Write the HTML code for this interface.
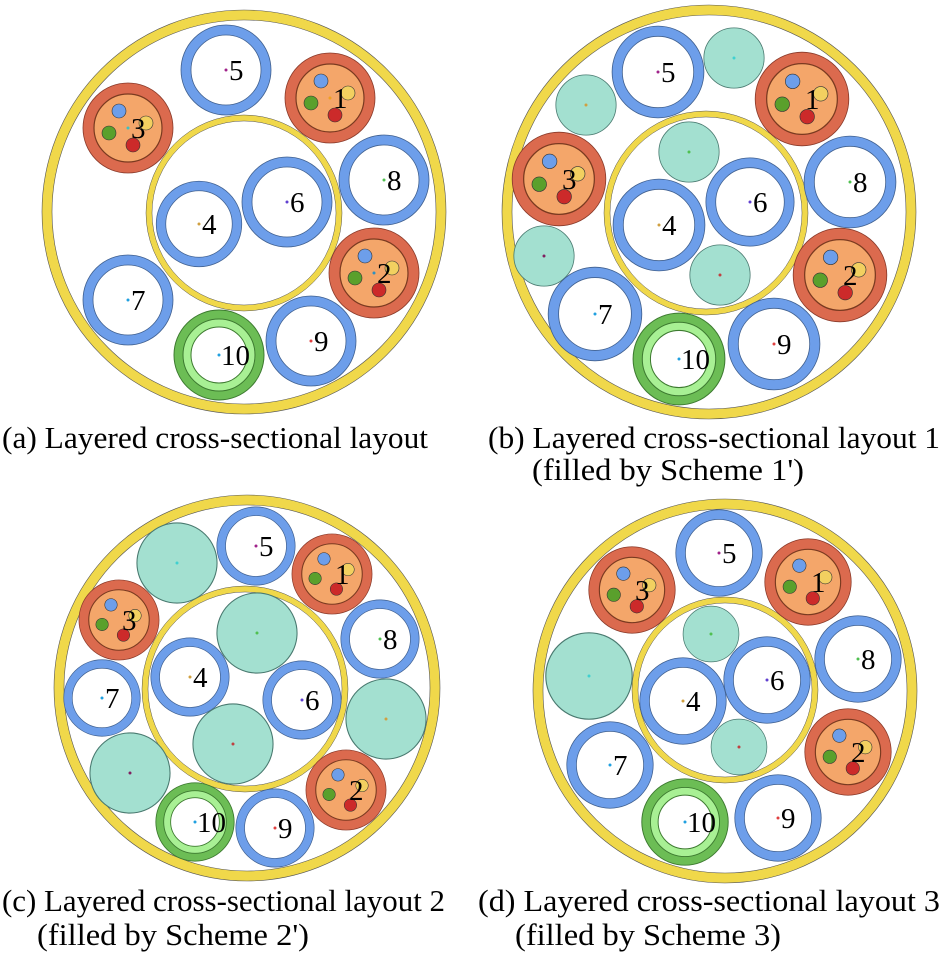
<!DOCTYPE html>
<html><head><meta charset="utf-8"><style>
html,body{margin:0;padding:0;background:#fff;}
svg{display:block;}
text{font-family:"Liberation Serif","Times New Roman",serif;fill:#000;}
</style></head><body>
<svg width="946" height="962" viewBox="0 0 946 962" xmlns="http://www.w3.org/2000/svg">
<defs>
<g id="blue">
<circle r="40" fill="#fff" stroke="#6d9eea" stroke-width="10"/>
<circle r="45" fill="none" stroke="#40608f" stroke-width="0.8"/>
<circle r="35" fill="none" stroke="#40608f" stroke-width="0.8"/>
</g>
<g id="comp">
<circle r="45" fill="#db6a4e" stroke="#8a3a2a" stroke-width="0.8"/>
<circle r="34" fill="#f4a66a" stroke="#7a3a20" stroke-width="1.2"/>
<circle cx="-9" cy="-17" r="7" fill="#6d9eea" stroke="#333" stroke-width="0.6"/>
<circle cx="18" cy="-5" r="7" fill="#f2d060" stroke="#333" stroke-width="0.6"/>
<circle cx="-19" cy="5" r="7" fill="#5aa02c" stroke="#333" stroke-width="0.6"/>
<circle cx="5" cy="17" r="7" fill="#cc2a2a" stroke="#333" stroke-width="0.6"/>
</g>
<g id="ten">
<circle r="45" fill="#6cbd55" stroke="#3d7a30" stroke-width="1"/>
<circle r="36" fill="#a8f094" stroke="#3d7a30" stroke-width="1"/>
<circle r="28" fill="#fff" stroke="#3d7a30" stroke-width="1"/>
</g>
<g id="teal"><circle r="45" fill="#a3e0d0" stroke="#4a7a70" stroke-width="1.2"/></g>
</defs>

<!-- Panel a -->
<circle cx="244" cy="212" r="197" fill="#fff" stroke="#f0d84a" stroke-width="10"/>
<circle cx="244" cy="212" r="202" fill="none" stroke="#555" stroke-width="0.6"/>
<circle cx="244" cy="212" r="192" fill="none" stroke="#555" stroke-width="0.6"/>
<circle cx="244" cy="213" r="95" fill="none" stroke="#f0d84a" stroke-width="6"/>
<circle cx="244" cy="213" r="98" fill="none" stroke="#555" stroke-width="0.5"/>
<circle cx="244" cy="213" r="92" fill="none" stroke="#555" stroke-width="0.5"/>
<use href="#blue" transform="translate(226,70)"/>
<use href="#comp" transform="translate(330,98)"/>
<use href="#comp" transform="translate(128,128)"/>
<use href="#blue" transform="translate(384,180)"/>
<use href="#blue" transform="translate(287,202)"/>
<use href="#blue" transform="translate(199,224) scale(0.95)"/>
<use href="#comp" transform="translate(374,273)"/>
<use href="#blue" transform="translate(128,300)"/>
<use href="#ten" transform="translate(219,355)"/>
<use href="#blue" transform="translate(311,341)"/>
<g font-size="29">
<text x="229" y="80">5</text><text x="333" y="108">1</text><text x="131" y="138">3</text>
<text x="387" y="190">8</text><text x="290" y="212">6</text><text x="202" y="234">4</text>
<text x="377" y="283">2</text><text x="131" y="310">7</text><text x="221" y="365">10</text><text x="314" y="351">9</text>
</g>

<!-- Panel b -->
<circle cx="709" cy="212" r="202" fill="#fff" stroke="#f0d84a" stroke-width="10"/>
<circle cx="709" cy="212" r="207" fill="none" stroke="#555" stroke-width="0.6"/>
<circle cx="709" cy="212" r="197" fill="none" stroke="#555" stroke-width="0.6"/>
<circle cx="706" cy="213" r="99" fill="none" stroke="#f0d84a" stroke-width="6"/>
<circle cx="706" cy="213" r="102" fill="none" stroke="#555" stroke-width="0.5"/>
<circle cx="706" cy="213" r="96" fill="none" stroke="#555" stroke-width="0.5"/>
<use href="#blue" transform="translate(658,72) scale(1.02)"/>
<use href="#teal" transform="translate(734,58) scale(0.67)"/>
<use href="#teal" transform="translate(586,105) scale(0.67)"/>
<use href="#comp" transform="translate(802,99) scale(1.04)"/>
<use href="#comp" transform="translate(559,179) scale(1.04)"/>
<use href="#teal" transform="translate(689,152) scale(0.67)"/>
<use href="#blue" transform="translate(850,182) scale(1.02)"/>
<use href="#blue" transform="translate(750,202) scale(0.98)"/>
<use href="#blue" transform="translate(659,225) scale(1.02)"/>
<use href="#teal" transform="translate(544,256) scale(0.67)"/>
<use href="#teal" transform="translate(720,275) scale(0.67)"/>
<use href="#comp" transform="translate(840,275) scale(1.04)"/>
<use href="#blue" transform="translate(595,314) scale(1.04)"/>
<use href="#ten" transform="translate(679,359) scale(1.02)"/>
<use href="#blue" transform="translate(774,344) scale(1.02)"/>
<g font-size="29">
<text x="661" y="82">5</text><text x="805" y="109">1</text><text x="562" y="189">3</text>
<text x="853" y="192">8</text><text x="753" y="212">6</text><text x="662" y="235">4</text>
<text x="843" y="285">2</text><text x="598" y="324">7</text><text x="681" y="369">10</text><text x="777" y="354">9</text>
</g>

<!-- Panel c -->
<circle cx="247" cy="688" r="188" fill="#fff" stroke="#f0d84a" stroke-width="10"/>
<circle cx="247" cy="688" r="193" fill="none" stroke="#555" stroke-width="0.6"/>
<circle cx="247" cy="688" r="183" fill="none" stroke="#555" stroke-width="0.6"/>
<circle cx="245" cy="689" r="100" fill="none" stroke="#f0d84a" stroke-width="6"/>
<circle cx="245" cy="689" r="103" fill="none" stroke="#555" stroke-width="0.5"/>
<circle cx="245" cy="689" r="97" fill="none" stroke="#555" stroke-width="0.5"/>
<use href="#teal" transform="translate(177,563) scale(0.89)"/>
<use href="#blue" transform="translate(256,546) scale(0.87)"/>
<use href="#comp" transform="translate(332,574) scale(0.89)"/>
<use href="#comp" transform="translate(119,620) scale(0.89)"/>
<use href="#teal" transform="translate(257,633) scale(0.89)"/>
<use href="#blue" transform="translate(380,639) scale(0.87)"/>
<use href="#blue" transform="translate(190,677) scale(0.87)"/>
<use href="#blue" transform="translate(102,698) scale(0.85)"/>
<use href="#blue" transform="translate(302,700) scale(0.87)"/>
<use href="#teal" transform="translate(386,719) scale(0.89)"/>
<use href="#teal" transform="translate(233,744) scale(0.89)"/>
<use href="#teal" transform="translate(130,773) scale(0.89)"/>
<use href="#comp" transform="translate(346,790) scale(0.89)"/>
<use href="#ten" transform="translate(195,822) scale(0.87)"/>
<use href="#blue" transform="translate(275,828) scale(0.87)"/>
<g font-size="29">
<text x="259" y="556">5</text><text x="335" y="584">1</text><text x="122" y="630">3</text>
<text x="383" y="649">8</text><text x="193" y="687">4</text><text x="105" y="708">7</text>
<text x="305" y="710">6</text><text x="349" y="800">2</text><text x="197" y="832">10</text><text x="278" y="838">9</text>
</g>

<!-- Panel d -->
<circle cx="725" cy="691" r="187" fill="#fff" stroke="#f0d84a" stroke-width="10"/>
<circle cx="725" cy="691" r="192" fill="none" stroke="#555" stroke-width="0.6"/>
<circle cx="725" cy="691" r="182" fill="none" stroke="#555" stroke-width="0.6"/>
<circle cx="725" cy="690" r="90" fill="none" stroke="#f0d84a" stroke-width="6"/>
<circle cx="725" cy="690" r="93" fill="none" stroke="#555" stroke-width="0.5"/>
<circle cx="725" cy="690" r="87" fill="none" stroke="#555" stroke-width="0.5"/>
<use href="#blue" transform="translate(719,553) scale(0.96)"/>
<use href="#comp" transform="translate(808,582) scale(0.96)"/>
<use href="#comp" transform="translate(632,590) scale(0.96)"/>
<use href="#teal" transform="translate(711,634) scale(0.62)"/>
<use href="#blue" transform="translate(858,659) scale(0.96)"/>
<use href="#teal" transform="translate(589,676) scale(0.96)"/>
<use href="#blue" transform="translate(767,680) scale(0.96)"/>
<use href="#blue" transform="translate(683,701) scale(0.96)"/>
<use href="#teal" transform="translate(739,747) scale(0.62)"/>
<use href="#comp" transform="translate(848,752) scale(0.96)"/>
<use href="#blue" transform="translate(610,765) scale(0.96)"/>
<use href="#ten" transform="translate(685,822) scale(0.96)"/>
<use href="#blue" transform="translate(778,818) scale(0.96)"/>
<g font-size="29">
<text x="722" y="563">5</text><text x="811" y="592">1</text><text x="635" y="600">3</text>
<text x="861" y="669">8</text><text x="770" y="690">6</text><text x="686" y="711">4</text>
<text x="851" y="762">2</text><text x="613" y="775">7</text><text x="687" y="832">10</text><text x="781" y="828">9</text>
</g>

<!-- center dots -->
<g>
<circle cx="226" cy="70" r="1.5" fill="#a0228a"/><circle cx="330" cy="98" r="1.5" fill="#f0a020"/><circle cx="128" cy="128" r="1.5" fill="#40c0c0"/><circle cx="384" cy="180" r="1.5" fill="#50c050"/><circle cx="287" cy="202" r="1.5" fill="#6040d0"/><circle cx="199" cy="224" r="1.5" fill="#d0a040"/><circle cx="374" cy="273" r="1.5" fill="#3090c0"/><circle cx="128" cy="300" r="1.5" fill="#20a0e0"/><circle cx="219" cy="355" r="1.5" fill="#20a0e0"/><circle cx="311" cy="341" r="1.5" fill="#e04040"/>
<circle cx="658" cy="72" r="1.5" fill="#a0228a"/><circle cx="734" cy="58" r="1.5" fill="#40d0d0"/><circle cx="586" cy="105" r="1.5" fill="#d0a040"/><circle cx="689" cy="152" r="1.5" fill="#50c050"/><circle cx="544" cy="256" r="1.5" fill="#802060"/><circle cx="720" cy="275" r="1.5" fill="#c04040"/><circle cx="595" cy="314" r="1.5" fill="#20a0e0"/><circle cx="679" cy="359" r="1.5" fill="#20a0e0"/><circle cx="774" cy="344" r="1.5" fill="#e04040"/><circle cx="850" cy="182" r="1.5" fill="#50c050"/><circle cx="750" cy="202" r="1.5" fill="#6040d0"/><circle cx="659" cy="225" r="1.5" fill="#d0a040"/>
<circle cx="177" cy="563" r="1.5" fill="#40d0d0"/><circle cx="256" cy="546" r="1.5" fill="#a0228a"/><circle cx="257" cy="633" r="1.5" fill="#50c050"/><circle cx="380" cy="639" r="1.5" fill="#50c050"/><circle cx="190" cy="677" r="1.5" fill="#d0a040"/><circle cx="102" cy="698" r="1.5" fill="#20a0e0"/><circle cx="302" cy="700" r="1.5" fill="#6040d0"/><circle cx="386" cy="719" r="1.5" fill="#d0a040"/><circle cx="233" cy="744" r="1.5" fill="#c04040"/><circle cx="130" cy="773" r="1.5" fill="#802060"/><circle cx="195" cy="822" r="1.5" fill="#20a0e0"/><circle cx="275" cy="828" r="1.5" fill="#e04040"/>
<circle cx="719" cy="553" r="1.5" fill="#a0228a"/><circle cx="711" cy="634" r="1.5" fill="#50c050"/><circle cx="858" cy="659" r="1.5" fill="#50c050"/><circle cx="589" cy="676" r="1.5" fill="#40d0d0"/><circle cx="767" cy="680" r="1.5" fill="#6040d0"/><circle cx="683" cy="701" r="1.5" fill="#d0a040"/><circle cx="739" cy="747" r="1.5" fill="#c04040"/><circle cx="610" cy="765" r="1.5" fill="#20a0e0"/><circle cx="685" cy="822" r="1.5" fill="#20a0e0"/><circle cx="778" cy="818" r="1.5" fill="#e04040"/>
</g>

<!-- captions -->
<g font-size="31">
<text x="2" y="448" textLength="426" lengthAdjust="spacingAndGlyphs">(a) Layered cross-sectional layout</text>
<text x="488" y="448" textLength="452" lengthAdjust="spacingAndGlyphs">(b) Layered cross-sectional layout 1</text>
<text x="532" y="480" textLength="272" lengthAdjust="spacingAndGlyphs">(filled by Scheme 1')</text>
<text x="2" y="911" textLength="443" lengthAdjust="spacingAndGlyphs">(c) Layered cross-sectional layout 2</text>
<text x="37" y="945" textLength="272" lengthAdjust="spacingAndGlyphs">(filled by Scheme 2')</text>
<text x="478" y="911" textLength="462" lengthAdjust="spacingAndGlyphs">(d) Layered cross-sectional layout 3</text>
<text x="515" y="945" textLength="266" lengthAdjust="spacingAndGlyphs">(filled by Scheme 3)</text>
</g>
</svg>
</body></html>
